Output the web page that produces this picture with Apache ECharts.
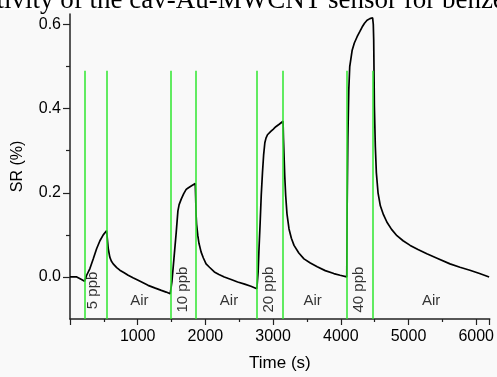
<!DOCTYPE html>
<html lang="en">

<head>
    <meta charset="UTF-8">
    <title>SR response</title>
    <style>
        html, body { margin: 0; padding: 0; background: #f9f9f9; }
    </style>
</head>

<body>
    <div id="main" style="width: 497px; height:377px"></div>
    <script src="https://cdn.jsdelivr.net/npm/echarts@6/dist/echarts.min.js"></script>
    <script type="text/javascript">
        // response curve
        var times = [0, 100, 170, 216, 246, 294, 344, 393, 442, 491, 540,
            552, 565, 588, 610, 638, 690, 736, 800, 859, 930, 1006, 1080, 1153, 1250, 1349, 1420, 1480,
            1505, 1535, 1569, 1594, 1612, 1643, 1680, 1716, 1750, 1790, 1820, 1850,
            1856, 1863, 1870, 1888, 1905, 1937, 1970, 2010, 2060, 2132, 2200, 2279, 2380, 2476, 2580, 2672, 2760,
            2779, 2790, 2809, 2825, 2843, 2860, 2878, 2895, 2917, 2966, 3000, 3040, 3090, 3147,
            3153, 3162, 3172, 3186, 3205, 3235, 3270, 3309, 3380, 3456, 3550, 3652, 3770, 3897, 3990, 4088,
            4094, 4104, 4118, 4132, 4168, 4200, 4241, 4280, 4315, 4350, 4388, 4430, 4470,
            4480, 4486, 4496, 4510, 4525, 4550, 4584, 4630, 4682, 4750, 4829, 4920, 5025, 5140, 5271, 5430, 5613, 5760, 5907, 6050, 6191];
        var sr = [0.000, 0.000, -0.006, -0.010, 0.004, 0.020, 0.043, 0.067, 0.086, 0.100, 0.110,
            0.090, 0.067, 0.047, 0.038, 0.031, 0.022, 0.016, 0.010, 0.004, -0.002, -0.008, -0.014, -0.020, -0.026, -0.032, -0.036, -0.040,
            -0.012, 0.043, 0.106, 0.157, 0.172, 0.185, 0.198, 0.208, 0.212, 0.216, 0.219, 0.222,
            0.190, 0.146, 0.125, 0.098, 0.080, 0.059, 0.045, 0.031, 0.023, 0.012, 0.006, 0.000, -0.006, -0.012, -0.017, -0.022, -0.028,
            0.012, 0.060, 0.130, 0.195, 0.248, 0.290, 0.319, 0.330, 0.338, 0.346, 0.351, 0.357, 0.363, 0.370,
            0.330, 0.287, 0.240, 0.193, 0.150, 0.114, 0.092, 0.075, 0.057, 0.043, 0.033, 0.024, 0.015, 0.008, 0.004, 0.000,
            0.169, 0.327, 0.445, 0.500, 0.539, 0.556, 0.571, 0.583, 0.594, 0.603, 0.610, 0.614, 0.616,
            0.600, 0.563, 0.405, 0.310, 0.248, 0.200, 0.169, 0.148, 0.130, 0.113, 0.098, 0.086, 0.075, 0.065, 0.055, 0.044, 0.031, 0.023, 0.016, 0.008, 0.000];

        // gas on / off switching times (green lines)
        var switchTimes = [216, 544, 1485, 1853, 2765, 3147, 4094, 4476];
        var switchLow = -0.1;
        var switchHigh = 0.49;

        // region labels
        var labelTexts = ['5 ppb', 'Air', '10 ppb', 'Air', '20 ppb', 'Air', '40 ppb', 'Air'];
        var labelTimes = [334, 1025, 1672, 2348, 2937, 3584, 4260, 5334];
        var labelValues = [-0.032, -0.058, -0.030, -0.058, -0.030, -0.058, -0.030, -0.058];

        var yLabelTicks = [0, 0.2, 0.4, 0.6];
        var yMinorTicks = [0.1, 0.3, 0.5];

        var curve = [];
        for (var i = 0; i < times.length; i++) {
            curve.push([times[i], sr[i]]);
        }
        var switchLines = [];
        for (var j = 0; j < switchTimes.length; j++) {
            switchLines.push([{ coord: [switchTimes[j], switchLow] }, { coord: [switchTimes[j], switchHigh] }]);
        }
        var labelPoints = [];
        for (var k = 0; k < labelTexts.length; k++) {
            labelPoints.push({
                value: [labelTimes[k], labelValues[k]],
                name: labelTexts[k],
                label: { rotate: labelTexts[k] == 'Air' ? 0 : 90 }
            });
        }

        var font = 'Liberation Sans';
        var myChart = echarts.init(document.getElementById('main'));
        var option = {
            backgroundColor: '#f9f9f9',
            animation: false,
            graphic: [{
                type: 'rect',
                shape: { x: 0, y: 0, width: 497, height: 10 },
                style: { fill: '#ffffff' },
                z: 0
            }, {
                type: 'text',
                x: -62,
                y: 14,
                style: {
                    text: 'Sensitivity of the cav-Au-MWCNT sensor for benzene',
                    font: '27px "Liberation Serif"',
                    fill: '#000',
                    verticalAlign: 'bottom'
                },
                z: 1
            }],
            grid: { left: 70, right: 7, top: 14, bottom: 56 },
            xAxis: {
                type: 'value',
                min: 0,
                max: 6200,
                interval: 1000,
                name: 'Time (s)',
                nameLocation: 'middle',
                nameGap: 36,
                nameTextStyle: { fontFamily: font, fontSize: 17, color: '#000' },
                axisLine: { onZero: false, lineStyle: { color: '#222', width: 1.5 } },
                axisTick: { length: 6, lineStyle: { color: '#222', width: 1.2 } },
                minorTick: { show: true, splitNumber: 2, length: 3, lineStyle: { color: '#222', width: 1.2 } },
                axisLabel: {
                    fontFamily: font, fontSize: 16, color: '#000', margin: 10,
                    formatter: function (v) { return v === 0 ? '' : v; }
                },
                splitLine: { show: false }
            },
            yAxis: [{
                type: 'value',
                min: -0.1,
                max: 0.625,
                name: 'SR (%)',
                nameLocation: 'middle',
                nameGap: 44,
                nameTextStyle: { fontFamily: font, fontSize: 16, color: '#000' },
                axisLine: { show: true, lineStyle: { color: '#222', width: 1.5 } },
                axisTick: { show: true, length: 7, customValues: yLabelTicks, lineStyle: { color: '#222', width: 1.2 } },
                axisLabel: {
                    fontFamily: font, fontSize: 16, color: '#000', margin: 9,
                    customValues: yLabelTicks,
                    formatter: function (v) { return v.toFixed(1); }
                },
                splitLine: { show: false }
            }, {
                type: 'value',
                position: 'left',
                min: -0.1,
                max: 0.625,
                axisLine: { show: false },
                axisTick: { show: true, length: 4, customValues: yMinorTicks, lineStyle: { color: '#222', width: 1.2 } },
                axisLabel: { show: false },
                splitLine: { show: false }
            }],
            series: [{
                name: 'switch',
                type: 'line',
                data: [],
                silent: true,
                z: 1,
                markLine: {
                    symbol: 'none',
                    silent: true,
                    label: { show: false },
                    lineStyle: { color: '#2ee62e', width: 1.5, type: 'solid' },
                    data: switchLines
                }
            }, {
                name: 'SR',
                type: 'line',
                data: curve,
                showSymbol: false,
                z: 3,
                lineStyle: { color: '#000', width: 1.7 }
            }, {
                name: 'labels',
                type: 'scatter',
                data: labelPoints,
                symbolSize: 1,
                itemStyle: { color: 'transparent' },
                label: {
                    show: true,
                    position: 'inside',
                    formatter: '{b}',
                    fontFamily: font,
                    fontSize: 15,
                    color: '#000'
                }
            }]
        };
        myChart.setOption(option);
    </script>

</body>

</html>
